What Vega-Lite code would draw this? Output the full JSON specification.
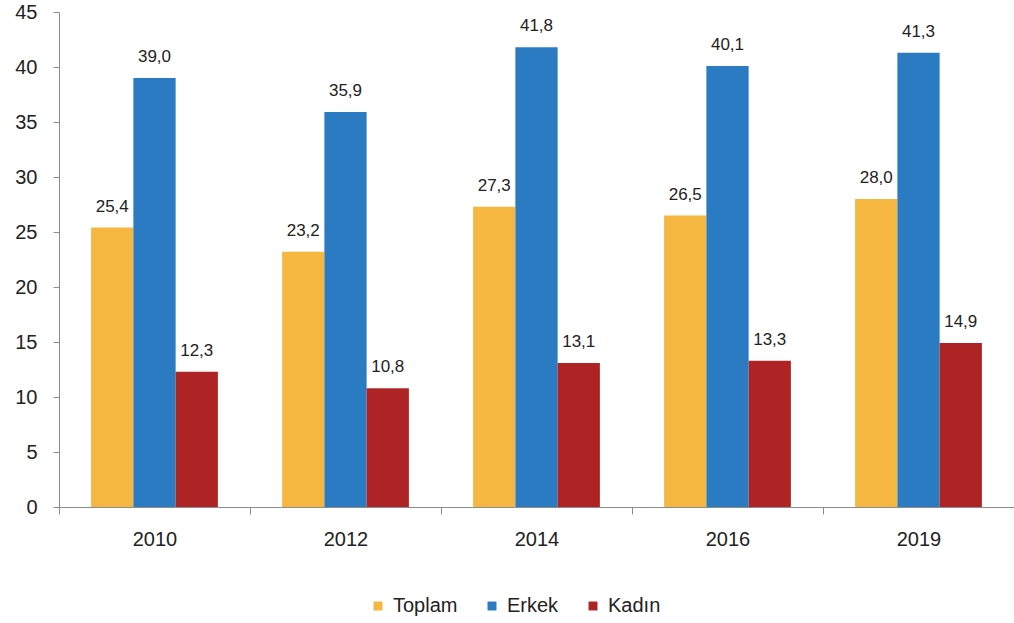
{
  "$schema": "https://vega.github.io/schema/vega-lite/v6.json",
  "autosize": "none",
  "width": 955,
  "height": 495,
  "padding": {"left": 59, "top": 12, "right": 0, "bottom": 116},
  "background": "white",
  "config": {
    "locale": {"number": {"decimal": ",", "thousands": ".", "grouping": [3], "currency": ["", ""]}},
    "font": "Liberation Sans",
    "view": {"stroke": null}
  },
  "data": {
    "values": [
      {"year": "2010", "group": "Toplam", "value": 25.4},
      {"year": "2010", "group": "Erkek", "value": 39.0},
      {"year": "2010", "group": "Kadın", "value": 12.3},
      {"year": "2012", "group": "Toplam", "value": 23.2},
      {"year": "2012", "group": "Erkek", "value": 35.9},
      {"year": "2012", "group": "Kadın", "value": 10.8},
      {"year": "2014", "group": "Toplam", "value": 27.3},
      {"year": "2014", "group": "Erkek", "value": 41.8},
      {"year": "2014", "group": "Kadın", "value": 13.1},
      {"year": "2016", "group": "Toplam", "value": 26.5},
      {"year": "2016", "group": "Erkek", "value": 40.1},
      {"year": "2016", "group": "Kadın", "value": 13.3},
      {"year": "2019", "group": "Toplam", "value": 28.0},
      {"year": "2019", "group": "Erkek", "value": 41.3},
      {"year": "2019", "group": "Kadın", "value": 14.9}
    ]
  },
  "encoding": {
    "x": {
      "field": "year", "type": "nominal", "title": null,
      "scale": {"paddingInner": 0, "paddingOuter": 0},
      "axis": {
        "tickBand": "extent", "labelAngle": 0, "labelFontSize": 20, "labelColor": "#222222",
        "labelPadding": 15, "tickSize": 7, "domainColor": "#8c8c8c", "tickColor": "#8c8c8c"
      }
    },
    "xOffset": {
      "field": "group", "type": "nominal", "sort": ["Toplam", "Erkek", "Kadın"],
      "scale": {"paddingInner": 0, "paddingOuter": 0.76}
    },
    "y": {
      "field": "value", "type": "quantitative", "title": null,
      "scale": {"domain": [0, 45], "nice": false},
      "axis": {
        "values": [0, 5, 10, 15, 20, 25, 30, 35, 40, 45], "grid": false,
        "labelFontSize": 20, "labelColor": "#222222", "labelPadding": 16, "tickSize": 6,
        "domainColor": "#8c8c8c", "tickColor": "#8c8c8c"
      }
    }
  },
  "layer": [
    {
      "mark": {"type": "bar"},
      "encoding": {
        "color": {
          "field": "group", "type": "nominal", "sort": ["Toplam", "Erkek", "Kadın"], "title": null,
          "scale": {"domain": ["Toplam", "Erkek", "Kadın"], "range": ["#F5B73F", "#2A7BC2", "#AE2424"]},
          "legend": {
            "orient": "none", "legendX": 309, "legendY": 584, "direction": "horizontal",
            "symbolType": "square", "symbolSize": 80, "labelFontSize": 20, "labelColor": "#222222",
            "columnPadding": 24, "labelOffset": 5
          }
        }
      }
    },
    {
      "mark": {"type": "text", "baseline": "alphabetic", "dy": -16, "fontSize": 17, "color": "#222222"},
      "encoding": {
        "text": {"field": "value", "type": "quantitative", "format": ".1f"}
      }
    }
  ]
}
